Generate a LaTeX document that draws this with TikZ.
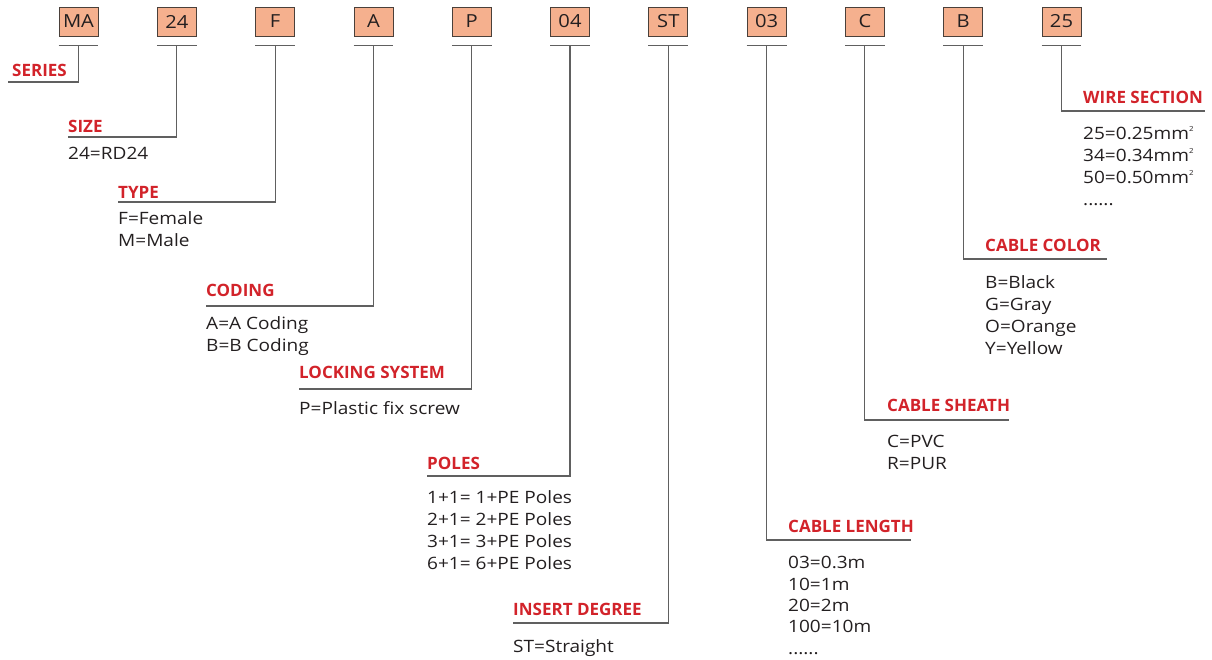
\documentclass[tikz,border=0pt]{standalone}
\usepackage{fontspec}
\setmainfont{Open Sans}
\newfontfamily\widefont{Open Sans}[FakeStretch=1.12]
\definecolor{boxfill}{HTML}{F5B08E}
\definecolor{boxline}{HTML}{4A403A}
\definecolor{headred}{HTML}{D2232A}
\definecolor{leadgray}{HTML}{606060}
\definecolor{textdark}{HTML}{231F20}
\tikzset{
  codebox/.style={draw=boxline, fill=boxfill, line width=0.8pt, minimum width=39, minimum height=29, inner sep=0pt, text=textdark, font=\widefont\fontsize{18}{18}\selectfont},
  lead/.style={draw=leadgray, line width=1.1pt},
  head/.style={anchor=base west, inner sep=0pt, text=headred, font=\bfseries\fontsize{17}{17}\selectfont},
  % first baseline sits (about) on the given point
  opts/.style={anchor=north west, yshift=12.6pt, inner sep=0pt, align=left, text=textdark, font=\widefont\fontsize{17}{22}\selectfont}
}
\newcommand{\sqmm}{mm\raisebox{0.9ex}{\fontsize{7}{7}\selectfont 2}}
\begin{document}
\begin{tikzpicture}[x=1pt, y=-1pt]
  \useasboundingbox (0,0) rectangle (1212,659);
  % code boxes with their underlines
  \foreach \c [count=\i from 0] in {MA,24,F,A,P,04,ST,03,C,B,25}{
    \node[codebox] (b\c) at (78.5+98.3*\i, 21.5) {\c};
    \coordinate (u\c) at ([yshift=-9]b\c.south);
    \draw[lead] ([yshift=-9]b\c.south west) -- ([yshift=-9]b\c.south east);
  }

  % series
  \coordinate (cSeries) at (8,82);
  \draw[lead] (uMA) |- (cSeries);
  \node[head] (hSeries) at (12,76) {SERIES};

  % size
  \coordinate (cSize) at (68,137);
  \draw[lead] (u24) |- (cSize);
  \node[head] (hSize) at (68,132) {SIZE};
  \node[opts] (oSize) at (68,160) {24=RD24};

  % type
  \coordinate (cType) at (118,202);
  \draw[lead] (uF) |- (cType);
  \node[head] (hType) at (118,198) {TYPE};
  \node[opts] (oType) at (118,224) {F=Female\\M=Male};

  % coding
  \coordinate (cCoding) at (206,306);
  \draw[lead] (uA) |- (cCoding);
  \node[head] (hCoding) at (206,296) {CODING};
  \node[opts] (oCoding) at (206,329) {A=A Coding\\B=B Coding};

  % locking system
  \coordinate (cLock) at (299,389);
  \draw[lead] (uP) |- (cLock);
  \node[head] (hLock) at (299,378) {LOCKING SYSTEM};
  \node[opts] (oLock) at (299,414) {P=Plastic fix screw};

  % poles
  \coordinate (cPoles) at (427,476);
  \draw[lead] (u04) |- (cPoles);
  \node[head] (hPoles) at (427,469) {POLES};
  \node[opts] (oPoles) at (427,503) {1+1= 1+PE Poles\\2+1= 2+PE Poles\\3+1= 3+PE Poles\\6+1= 6+PE Poles};

  % insert degree
  \coordinate (cInsert) at (513,623);
  \draw[lead] (uST) |- (cInsert);
  \node[head] (hInsert) at (513,615) {INSERT DEGREE};
  \node[opts] (oInsert) at (513,652) {ST=Straight};

  % cable length
  \coordinate (cLength) at (911,540);
  \draw[lead] (u03) |- (cLength);
  \node[head] (hLength) at (788,532) {CABLE LENGTH};
  \node[opts, font=\widefont\fontsize{17}{21.3}\selectfont] (oLength) at (788,569) {03=0.3m\\10=1m\\20=2m\\100=10m\\......};

  % cable sheath
  \coordinate (cSheath) at (1009,420);
  \draw[lead] (uC) |- (cSheath);
  \node[head] (hSheath) at (887,411) {CABLE SHEATH};
  \node[opts] (oSheath) at (887,448) {C=PVC\\R=PUR};

  % cable color
  \coordinate (cColor) at (1107,259);
  \draw[lead] (uB) |- (cColor);
  \node[head] (hColor) at (985,251) {CABLE COLOR};
  \node[opts] (oColor) at (985,288) {B=Black\\G=Gray\\O=Orange\\Y=Yellow};

  % wire section
  \coordinate (cWire) at (1205,111);
  \draw[lead] (u25) |- (cWire);
  \node[head] (hWire) at (1083,103) {WIRE SECTION};
  \node[opts] (oWire) at (1083,139) {25=0.25\sqmm\\34=0.34\sqmm\\50=0.50\sqmm\\......};
\end{tikzpicture}
\end{document}
